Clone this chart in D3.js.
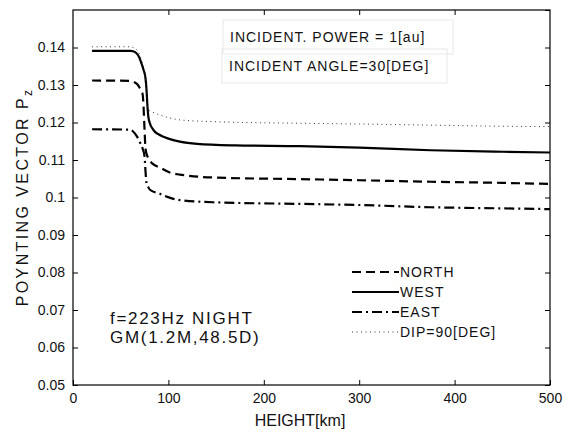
<!DOCTYPE html>
<html>
<head>
<meta charset="utf-8">
<script src="https://cdn.jsdelivr.net/npm/d3@7"></script>
<style>
  body { margin: 0; background: #fff; }
  text { font-family: "Liberation Sans", Arial, sans-serif; fill: #111; }
</style>
</head>
<body>
<div id="chart"></div>
<script>
var W = 568, H = 432;
var margin = { top: 10, right: 18, bottom: 47, left: 73 };
var width = W - margin.left - margin.right,
    height = H - margin.top - margin.bottom;

// heights [km] and Pz values
var westH  = [20, 60, 63, 66, 69, 72, 74, 76, 77, 78, 79, 81, 83, 86, 90, 95, 100, 112, 130, 170, 238, 300, 375, 450, 500];
var westV  = [0.1391, 0.1391, 0.1390, 0.1386, 0.1376, 0.1356, 0.1340, 0.1318, 0.1290, 0.1245, 0.1215, 0.1195, 0.1185, 0.1175, 0.1168, 0.1162, 0.1157, 0.1149, 0.1143, 0.1139, 0.1137, 0.1133, 0.1126, 0.1122, 0.1120];

var dipH   = [20, 60, 63, 66, 69, 72, 74, 76, 77, 78, 80, 84, 90, 100, 112, 150, 238, 300, 375, 450, 500];
var dipV   = [0.1402, 0.1402, 0.1400, 0.1396, 0.1386, 0.1365, 0.1345, 0.1310, 0.1280, 0.1245, 0.1232, 0.1227, 0.1221, 0.1213, 0.1207, 0.1202, 0.1198, 0.1196, 0.1193, 0.1190, 0.1189];

var northH = [20, 60, 64, 67, 70, 72, 73, 74, 75, 76, 78, 80, 83, 91, 102, 112, 150, 238, 300, 375, 450, 500];
var northV = [0.1312, 0.1311, 0.1308, 0.1303, 0.1292, 0.1282, 0.1275, 0.1240, 0.1180, 0.1130, 0.1110, 0.1100, 0.1091, 0.1080, 0.1066, 0.1061, 0.1053, 0.1049, 0.1046, 0.1042, 0.1039, 0.1036];

var eastH  = [20, 60, 63, 67, 70, 73, 75, 76, 77, 79, 81, 91, 102, 112, 150, 238, 300, 375, 450, 500];
var eastV  = [0.1182, 0.1181, 0.1176, 0.1163, 0.1148, 0.1130, 0.1110, 0.1070, 0.1040, 0.1027, 0.1020, 0.1010, 0.0999, 0.0993, 0.0987, 0.0983, 0.0980, 0.0974, 0.0971, 0.0969];

var xTicks = [0, 100, 200, 300, 400, 500];
var yTicks = [0.05, 0.06, 0.07, 0.08, 0.09, 0.1, 0.11, 0.12, 0.13, 0.14];
var yTicksAll = [0.05, 0.06, 0.07, 0.08, 0.09, 0.1, 0.11, 0.12, 0.13, 0.14, 0.15];

var series = [
    { name: "NORTH", h: northH, v: northV, dash: "9,5", w: 2.2, color: "#000" },
    { name: "WEST", h: westH, v: westV, dash: null, w: 2.2, color: "#000" },
    { name: "EAST", h: eastH, v: eastV, dash: "10,4,2,4", w: 2.2, color: "#000" },
    { name: "DIP=90[DEG]", h: dipH, v: dipV, dash: "1,3.5", w: 1, color: "#333" }
];

var svg = d3.select("#chart").append("svg")
    .attr("width", W)
    .attr("height", H);

var g = svg.append("g")
    .attr("transform", "translate(" + margin.left + "," + margin.top + ")");

var x = d3.scaleLinear().domain([0, 500]).range([0, width]);
var y = d3.scaleLinear().domain([0.05, 0.15]).range([height, 0]);

// axes, ticks pointing inward
var xAxis = d3.axisBottom(x).tickValues(xTicks).tickSizeInner(-5).tickSizeOuter(0).tickPadding(8);
var yAxis = d3.axisLeft(y).tickValues(yTicks).tickSizeInner(-5).tickSizeOuter(0).tickPadding(8)
    .tickFormat(function(d) { return d3.format("")(+d.toFixed(2)); });

g.append("g").attr("transform", "translate(0," + height + ")").call(xAxis);
g.append("g").call(yAxis);

// mirrored ticks on top and right
g.append("g").call(d3.axisTop(x).tickValues(xTicks.slice(1, 5)).tickSizeInner(-5).tickSizeOuter(0).tickFormat(""));
g.append("g").attr("transform", "translate(" + width + ",0)")
    .call(d3.axisRight(y).tickValues(yTicksAll).tickSizeInner(-5).tickSizeOuter(0).tickFormat(""));

g.selectAll(".domain").remove();
g.selectAll(".tick line").attr("stroke", "#000");
g.selectAll(".tick text").style("font-size", "14px").style("font-family", "Liberation Sans, Arial, sans-serif").attr("fill", "#222");

g.append("rect")
    .attr("width", width)
    .attr("height", height)
    .attr("fill", "none")
    .attr("stroke", "#000")
    .attr("stroke-width", 1.2);

var line = d3.line()
    .x(function(d) { return x(d[0]); })
    .y(function(d) { return y(d[1]); })
    .curve(d3.curveMonotoneX);

series.forEach(function(s) {
    var pts = s.h.map(function(h, i) { return [h, s.v[i]]; });
    g.append("path")
        .datum(pts)
        .attr("fill", "none")
        .attr("stroke", s.color)
        .attr("stroke-width", s.w)
        .attr("stroke-dasharray", s.dash)
        .attr("d", line);
});

// info boxes
var boxes = [
    { text: "INCIDENT. POWER = 1[au]", x: 150, y: 10, w: 230, h: 34 },
    { text: "INCIDENT ANGLE=30[DEG]", x: 149, y: 39, w: 225, h: 34 }
];
boxes.forEach(function(b) {
    g.append("rect").attr("x", b.x).attr("y", b.y).attr("width", b.w).attr("height", b.h)
        .attr("fill", "none").attr("stroke", "#e8e8e8");
    g.append("text").attr("x", b.x + 7).attr("y", b.y + b.h / 2 + 5)
        .style("font-size", "14px").style("letter-spacing", "1px").text(b.text);
});

// legend
var legend = g.append("g").attr("transform", "translate(" + (352 - margin.left) + "," + (272 - margin.top) + ")");
series.forEach(function(s, i) {
    var row = legend.append("g").attr("transform", "translate(0," + (i * 20) + ")");
    row.append("line").attr("x1", 0).attr("x2", 47).attr("y1", 0).attr("y2", 0)
        .attr("stroke", s.color).attr("stroke-width", s.w).attr("stroke-dasharray", s.dash);
    row.append("text").attr("x", 48).attr("y", 5).style("font-size", "14px")
        .style("letter-spacing", "1px").text(s.name);
});

// annotation
g.append("text").attr("x", 110 - margin.left).attr("y", 324 - margin.top)
    .style("font-size", "17px").style("letter-spacing", "1.7px").text("f=223Hz NIGHT");
g.append("text").attr("x", 110 - margin.left).attr("y", 343 - margin.top)
    .style("font-size", "17px").style("letter-spacing", "1.7px").text("GM(1.2M,48.5D)");

// axis titles
svg.append("text").attr("x", 300).attr("y", 426).attr("text-anchor", "middle")
    .style("font-size", "16px").text("HEIGHT[km]");

var yt = svg.append("text").attr("text-anchor", "middle")
    .attr("transform", "translate(28,197) rotate(-90)")
    .style("font-size", "16px").style("letter-spacing", "2.4px");
yt.append("tspan").text("POYNTING VECTOR  P");
yt.append("tspan").attr("dy", 4).style("font-size", "12px").text("z");
</script>
</body>
</html>
